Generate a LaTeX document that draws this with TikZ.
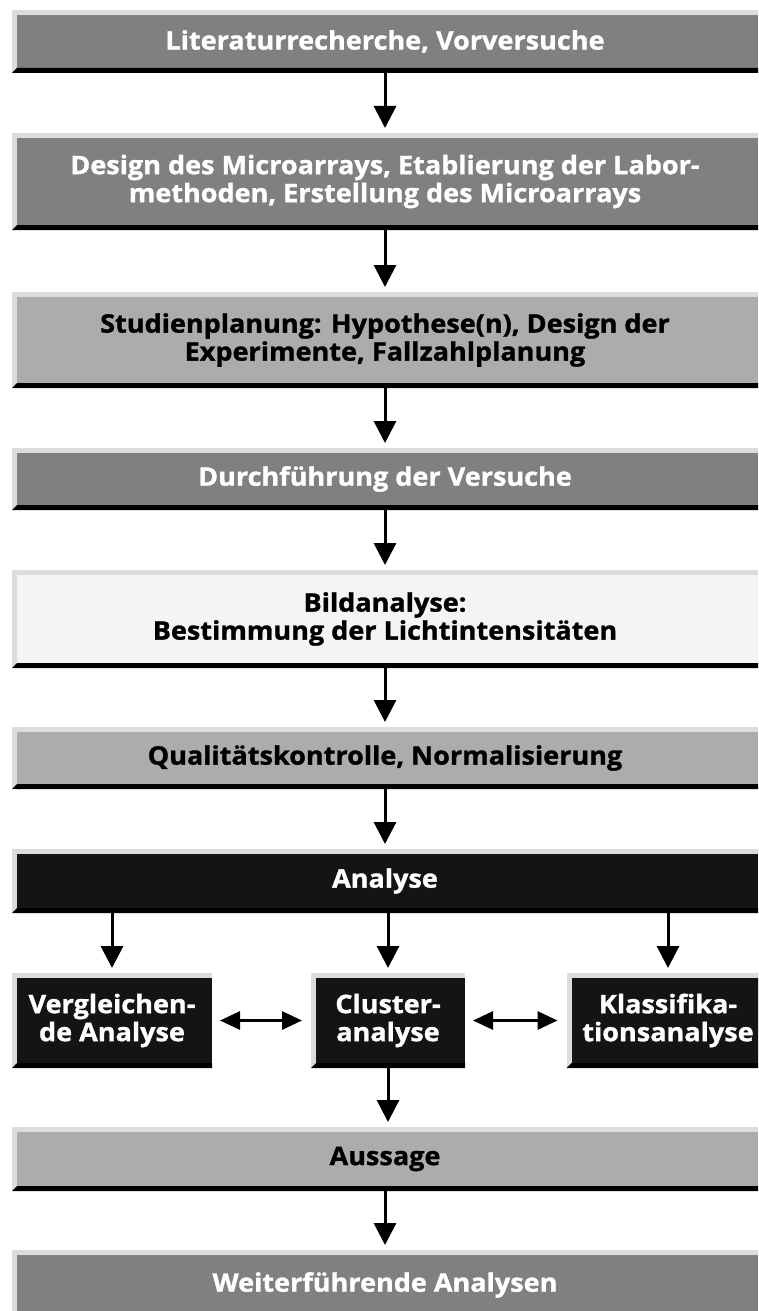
\documentclass[tikz,border=0pt]{standalone}
\usepackage{fontspec}
\setmainfont{Open Sans}[BoldFeatures={FakeStretch=1.06,FakeBold=1.2}]
\usetikzlibrary{arrows.meta}
\definecolor{edgec}{HTML}{DCDCDC}
\definecolor{midgray}{HTML}{808080}
\definecolor{lgray}{HTML}{ACACAC}
\definecolor{palegray}{HTML}{F4F4F4}
\definecolor{nearblack}{HTML}{141414}
\tikzset{
  bevfill/.store in=\bevfill, bevfill=midgray,
  bev/.style={rectangle, inner sep=0pt, outer sep=0pt, fill=edgec, align=center,
    font=\bfseries\fontsize{25.5}{28}\selectfont,
    path picture={
      \fill[\bevfill] ([xshift=5pt,yshift=-5pt]path picture bounding box.north west) rectangle ([yshift=5pt]path picture bounding box.south east);
      \fill[black] (path picture bounding box.south west) -- ([xshift=5pt,yshift=5pt]path picture bounding box.south west) -- ([yshift=5pt]path picture bounding box.south east) -- (path picture bounding box.south east) -- cycle;
    }},
  darkbox/.style={bev, bevfill=midgray, text=white},
  blackbox/.style={bev, bevfill=nearblack, text=white},
  greybox/.style={bev, bevfill=lgray, text=black},
  palebox/.style={bev, bevfill=palegray, text=black},
  wide/.style={minimum width=746pt},
  arr/.style={-{Triangle[width=22pt,length=22pt]}, line width=3pt, shorten >=5pt},
  darr/.style={{Triangle[width=18pt,length=20pt]}-{Triangle[width=18pt,length=20pt]}, line width=3pt, shorten >=9pt, shorten <=8pt}
}
\begin{document}
\begin{tikzpicture}[x=1pt,y=-1pt]
\useasboundingbox (0,0) rectangle (758,1311);
\clip (0,0) rectangle (758,1311);
\node[darkbox, wide, minimum height=63pt] (b1) at (385,41.5) {Literaturrecherche, Vorversuche};
\node[darkbox, wide, minimum height=97pt] (b2) at (385,181.5) {Design des Microarrays, Etablierung der Labor-\\methoden, Erstellung des Microarrays};
\node[greybox, wide, minimum height=96pt] (b3) at (385,340) {Studienplanung: Hypothese(n), Design der\\Experimente, Fallzahlplanung};
\node[darkbox, wide, minimum height=62pt] (b4) at (385,479) {Durchführung der Versuche};
\node[palebox, wide, minimum height=98pt] (b5) at (385,619) {Bildanalyse:\\Bestimmung der Lichtintensitäten};
\node[greybox, wide, minimum height=62pt] (b6) at (385,758) {Qualitätskontrolle, Normalisierung};
\node[blackbox, wide, minimum height=64pt] (b7) at (385,881) {Analyse};
\node[blackbox, minimum width=200pt, minimum height=95pt] (l) at (112,1020.5) {Vergleichen-\\de Analyse};
\node[blackbox, minimum width=154pt, minimum height=95pt] (c) at (388,1020.5) {Cluster-\\analyse};
\node[blackbox, minimum width=203pt, minimum height=95pt] (r) at (668,1020.5) {Klassifika-\\tionsanalyse};
\node[greybox, wide, minimum height=64pt] (b8) at (385,1159) {Aussage};
\node[darkbox, wide, minimum height=70pt] (b9) at (385,1285) {Weiterführende Analysen};
\draw[arr] (b1) -- (b2);
\draw[arr] (b2) -- (b3);
\draw[arr] (b3) -- (b4);
\draw[arr] (b4) -- (b5);
\draw[arr] (b5) -- (b6);
\draw[arr] (b6) -- (b7);
\draw[arr] (b7.south -| l.north) -- (l.north);
\draw[arr] (b7.south -| c.north) -- (c.north);
\draw[arr] (b7.south -| r.north) -- (r.north);
\draw[darr] (l.east) -- (c.west);
\draw[darr] (c.east) -- (r.west);
\draw[arr] (c.south) -- (c.south |- b8.north);
\draw[arr] (b8) -- (b9);
\end{tikzpicture}
\end{document}
